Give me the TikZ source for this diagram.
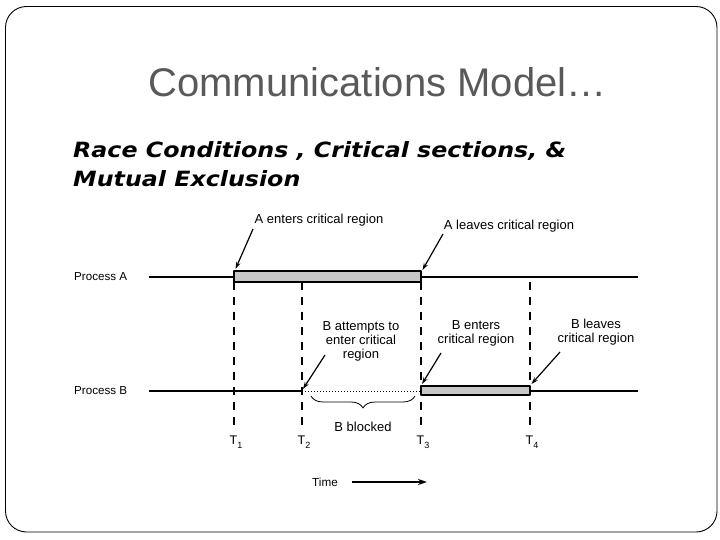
\documentclass[tikz,border=0pt]{standalone}
\usepackage{fontspec}
\setmainfont{Liberation Sans}
\newfontfamily\subfont[FakeStretch=1.13]{DejaVu Sans}
\usetikzlibrary{arrows.meta,decorations.pathreplacing}
\tikzset{
  lbl/.style={font=\fontsize{13}{14}\selectfont, align=center, inner sep=0pt},
  proc/.style={font=\fontsize{11.6}{13}\selectfont, anchor=west, inner sep=0pt},
  tline/.style={line width=1.3pt},
  crit/.style={line width=1.2pt, fill=black!22},
  tick/.style={line width=1.1pt, dash pattern=on 8pt off 7pt},
  note/.style={->, line width=1.2pt}
}
\begin{document}
\begin{tikzpicture}[x=1pt, y=-1pt, line join=round, >={Stealth[length=7pt,width=4.5pt]}]
  \useasboundingbox (0,0) rectangle (720,540);
  \draw[rounded corners=21pt, line width=0.9pt] (5.5,6.5) rectangle (717,532);
  % titles
  \node[text=black!65, font=\fontsize{40}{48}\selectfont] (title) at (377.5,82) {Communications Model…};
  \node[anchor=base west, align=left, inner sep=0pt,
        font=\subfont\bfseries\itshape\fontsize{21}{29}\selectfont] (sub) at (73,186.5)
        {Race Conditions , Critical sections, \&\\Mutual Exclusion};
  \def\ya{277} % ligne A
  \def\yb{391} % ligne B
  % processus
  \node[proc] (procA) at (74,\ya) {Process A};
  \node[proc] (procB) at (74,\yb) {Process B};
  \draw[tline] (149,\ya) -- (638,\ya);
  \draw[tline] (149,\yb) -- (302,\yb) (530,\yb) -- (638,\yb);
  \draw[line width=1pt, dotted] (302,\yb) -- (421,\yb);
  \draw[crit] (234,271) rectangle (421,282);
  \draw[crit] (421,386) rectangle (530,395);
  % instants
  \foreach \x/ \n in {234/1,302/2,421/3,530/4}{
    \draw[tick] (\x,282) -- (\x,431);
    \node[font=\fontsize{12.5}{12}\selectfont, inner sep=0pt] (t\n) at (\x+2,442)
      {T\raisebox{-4pt}{\fontsize{9}{9}\selectfont\n}};
  }
  % evenements
  \node[lbl] (aEnter) at (319,220.5) {A enters critical region};
  \node[lbl] (aLeave) at (509,226.5) {A leaves critical region};
  \node[lbl] (bTry)   at (361,341.5) {B attempts to\\enter critical\\region};
  \node[lbl] (bEnter) at (476,333.5) {B enters\\critical region};
  \node[lbl] (bLeave) at (596,332)   {B leaves\\critical region};
  \coordinate (aEnterTip) at (235.5,269);
  \coordinate (aLeaveTip) at (422.5,270);
  \coordinate (bTryTip)   at (303,389);
  \coordinate (bEnterTip) at (422,384);
  \coordinate (bLeaveTip) at (531.5,384);
  \coordinate (aEnterTail) at (253,229);
  \coordinate (aLeaveTail) at (443,234);
  \coordinate (bTryTail)   at (325,355);
  \coordinate (bEnterTail) at (441,353);
  \coordinate (bLeaveTail) at (560,352);
  \foreach \e in {aEnter,aLeave,bTry,bEnter,bLeave}
    \draw[note] (\e Tail) -- (\e Tip);
  % attente de B
  \draw[line width=0.8pt, decorate, decoration={brace, amplitude=12pt, mirror}]
    (311,396) -- (415,396);
  \node[lbl] (blocked) at (363,427) {B blocked};
  % temps
  \node[font=\fontsize{11.7}{13}\selectfont, inner sep=0pt] (time) at (325,482) {Time};
  \draw[line width=1.5pt, -{Stealth[length=9pt,width=6pt]}] ([xshift=14pt]time.east) -- ++(75,0);
\end{tikzpicture}
\end{document}
